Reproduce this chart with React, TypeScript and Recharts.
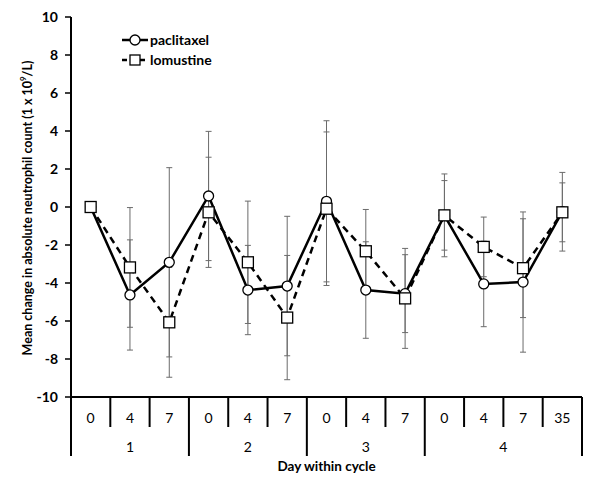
import React from 'react';
import { LineChart, Line, XAxis, YAxis, ErrorBar, Legend, Label } from 'recharts';

// day within cycle, cycle number
const days = ['0', '4', '7', '0', '4', '7', '0', '4', '7', '0', '4', '7', '35'];
const cycles = ['1', '1', '1', '2', '2', '2', '3', '3', '3', '4', '4', '4', '4'];

const paclitaxel = [0, -4.63, -2.91, 0.58, -4.37, -4.16, 0.3, -4.37, -4.56, -0.44, -4.05, -3.95, -0.25];
const paclitaxelErr = [0, 2.9, 4.98, 3.4, 2.35, 3.67, 4.24, 2.54, 2.05, 2.18, 2.25, 3.69, 2.07];
const lomustine = [0, -3.18, -6.07, -0.28, -2.91, -5.82, -0.09, -2.33, -4.81, -0.44, -2.1, -3.22, -0.28];
const lomustineErr = [0, 3.15, 2.89, 2.9, 3.22, 3.27, 4.04, 2.2, 2.63, 1.83, 1.57, 2.6, 1.55];

const yTicks = [-10, -8, -6, -4, -2, 0, 2, 4, 6, 8, 10];

const data = days.map((d, i) => ({
  key: `${cycles[i]}-${d}`,
  paclitaxel: paclitaxel[i],
  paclitaxelErr: paclitaxelErr[i],
  lomustine: lomustine[i],
  lomustineErr: lomustineErr[i],
}));

const W = 593;
const H = 487;
const MARGIN = { top: 9, right: 19, left: 0, bottom: 0 };
const Y_AXIS_W = 63;
const PLOT_W = W - MARGIN.left - MARGIN.right - Y_AXIS_W;
const BAND = PLOT_W / days.length;
const FONT = 'Lato, "Liberation Sans", sans-serif';

const XTick = (props: any) => {
  const { x, y } = props;
  const i = props.index ?? props.payload?.index ?? 0;
  const left = x - BAND / 2;
  const startsCycle = i === 0 || cycles[i] !== cycles[i - 1];
  const last = i === days.length - 1;
  const count = cycles.filter(c => c === cycles[i]).length;
  return (
    <g>
      <line x1={left} y1={y} x2={left} y2={y + (startsCycle ? 59 : 30)} stroke="#000" strokeWidth={2} />
      {last && <line x1={left + BAND} y1={y} x2={left + BAND} y2={y + 59} stroke="#000" strokeWidth={2} />}
      <text x={x} y={y + 20} textAnchor="middle" dominantBaseline="central" fontSize={14} fontFamily={FONT} fill="#000">
        {days[i]}
      </text>
      {startsCycle && (
        <text x={left + (count * BAND) / 2} y={y + 49.5} textAnchor="middle" dominantBaseline="central" fontSize={14} fontFamily={FONT} fill="#000">
          {cycles[i]}
        </text>
      )}
    </g>
  );
};

const SquareDot = (props: any) => {
  const { cx, cy, index } = props;
  if (cx == null || cy == null) return null;
  return <rect key={`sq-${index}`} x={cx - 5.5} y={cy - 5.5} width={11} height={11} fill="#fff" stroke="#000" strokeWidth={1.3} strokeDasharray="none" />;
};

const renderLegend = () => (
  <div style={{ fontFamily: FONT, fontWeight: 'bold', fontSize: 14, color: '#000', lineHeight: '20px' }}>
    <div style={{ display: 'flex', alignItems: 'center', height: 20 }}>
      <svg width={28} height={14}>
        <line x1={0} y1={7} x2={26} y2={7} stroke="#000" strokeWidth={2.5} />
        <circle cx={13} cy={7} r={5} fill="#fff" stroke="#000" strokeWidth={1.3} />
      </svg>
      <span>paclitaxel</span>
    </div>
    <div style={{ display: 'flex', alignItems: 'center', height: 20 }}>
      <svg width={28} height={14}>
        <line x1={0} y1={7} x2={26} y2={7} stroke="#000" strokeWidth={2.5} strokeDasharray="5 4" />
        <rect x={8} y={2} width={10} height={10} fill="#fff" stroke="#000" strokeWidth={1.3} />
      </svg>
      <span>lomustine</span>
    </div>
  </div>
);

const YLabel = () => {
  const cx = 19;
  const cy = 200;
  return (
    <text
      x={cx}
      y={cy}
      transform={`rotate(-90 ${cx} ${cy})`}
      textAnchor="middle"
      dominantBaseline="central"
      fontFamily={FONT}
      fontWeight="bold"
      fontSize={12.5}
      fill="#000"
    >
      Mean change in absolute neutrophil count (1 x 10
      <tspan dy={-4} fontSize={8}>9</tspan>
      <tspan dy={4}>/L)</tspan>
    </text>
  );
};

export default function App() {
  return (
    <LineChart width={W} height={H} data={data} margin={MARGIN}>
      <XAxis
        dataKey="key"
        interval={0}
        padding={{ left: BAND / 2, right: BAND / 2 }}
        height={H - MARGIN.top - MARGIN.bottom - 380}
        axisLine={{ stroke: '#000', strokeWidth: 2 }}
        tickLine={false}
        tickSize={0}
        tickMargin={0}
        tick={<XTick />}
      >
        <Label
          value="Day within cycle"
          position="insideBottom"
          offset={24}
          style={{ fontFamily: FONT, fontWeight: 'bold', fontSize: 13.5, fill: '#000' }}
        />
      </XAxis>
      <YAxis
        width={Y_AXIS_W}
        domain={[-10, 10]}
        ticks={yTicks}
        interval={0}
        axisLine={{ stroke: '#000', strokeWidth: 2 }}
        tickLine={{ stroke: '#000', strokeWidth: 1.5 }}
        tickSize={6}
        tickMargin={7}
        tick={{ fontFamily: FONT, fontWeight: 'bold', fontSize: 14, fill: '#000' }}
        label={{ content: <YLabel /> }}
      />
      <Legend
        layout="vertical"
        align="center"
        verticalAlign="middle"
        content={renderLegend}
        wrapperStyle={{ position: 'absolute', left: 114, top: 22, width: 'auto' }}
      />
      <Line
        dataKey="paclitaxel"
        stroke="#000"
        strokeWidth={2.5}
        dot={{ r: 5, fill: '#fff', stroke: '#000', strokeWidth: 1.3 }}
        activeDot={false}
        isAnimationActive={false}
        legendType="none"
      >
        <ErrorBar dataKey="paclitaxelErr" width={3} strokeWidth={1} stroke="#6b6b6b" direction="y" />
      </Line>
      <Line
        dataKey="lomustine"
        stroke="#000"
        strokeWidth={2.5}
        strokeDasharray="7 5"
        dot={<SquareDot />}
        activeDot={false}
        isAnimationActive={false}
        legendType="none"
      >
        <ErrorBar dataKey="lomustineErr" width={3} strokeWidth={1} stroke="#6b6b6b" direction="y" />
      </Line>
    </LineChart>
  );
}
